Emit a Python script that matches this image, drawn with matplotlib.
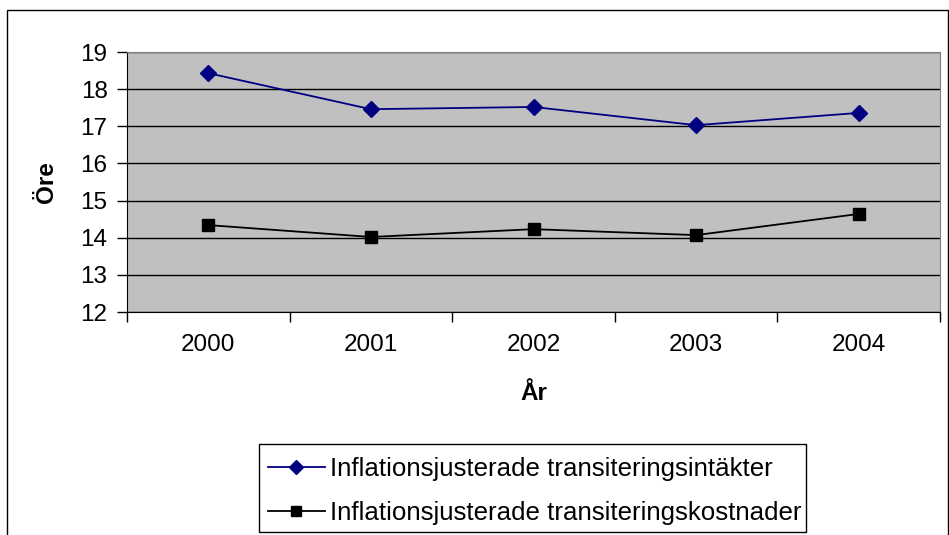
import matplotlib
matplotlib.use("Agg")
import matplotlib.pyplot as plt
from matplotlib.patches import Rectangle

years = ["2000", "2001", "2002", "2003", "2004"]
intakter = [18.43, 17.46, 17.52, 17.03, 17.36]
kostnader = [14.34, 14.02, 14.23, 14.07, 14.64]
label_intakter = "Inflationsjusterade transiteringsintäkter"
label_kostnader = "Inflationsjusterade transiteringskostnader"

plt.rcParams['font.family'] = ['Liberation Sans', 'DejaVu Sans']

W, H = 949, 535
fig = plt.figure(figsize=(W / 100, H / 100), dpi=100)
fig.patch.set_facecolor('white')

# outer chart border
fig.add_artist(Rectangle((7 / W, -0.05), (W - 8) / W, (H - 10) / H + 0.05,
                         transform=fig.transFigure, fill=False,
                         edgecolor='black', linewidth=1.0))

left, right, top, bottom = 127, 940, 52, 312
ax = fig.add_axes([left / W, 1 - bottom / H, (right - left) / W, (bottom - top) / H])
ax.set_facecolor('#c0c0c0')

x = list(range(len(years)))
ax.plot(x, intakter, color='#000080', marker='D', markersize=8, linewidth=1.3,
        label=label_intakter)
ax.plot(x, kostnader, color='black', marker='s', markersize=8, linewidth=1.3,
        label=label_kostnader)

ax.set_xlim(-0.5, len(years) - 0.5)
ax.set_ylim(12, 19)
ax.set_yticks(range(12, 20))
ax.yaxis.grid(True, color='black', linewidth=1.0)
ax.set_axisbelow(True)
ax.set_xticks([i - 0.5 for i in range(len(years) + 1)])
ax.set_xticklabels([])
ax.set_xticks(x, minor=True)
ax.set_xticklabels(years, minor=True)
ax.tick_params(axis='x', which='minor', length=0, pad=16, labelsize=17.5)
ax.tick_params(axis='x', which='major', length=7, width=1, direction='out')
ax.tick_params(axis='y', length=7, width=1, direction='out', pad=7, labelsize=17.5)

for s in ['top', 'right']:
    ax.spines[s].set_color('#808080')
for s in ['left', 'bottom']:
    ax.spines[s].set_color('black')

ax.text((47 - left) / (right - left), (bottom - 182) / (bottom - top), 'Öre',
        transform=ax.transAxes, rotation=90, ha='center', va='center',
        fontsize=17.5, fontweight='bold')
ax.text(0.5, (bottom - 394) / (bottom - top), 'År', transform=ax.transAxes,
        ha='center', va='center', fontsize=17.5, fontweight='bold')

# legend frame
fig.add_artist(Rectangle((259 / W, 1 - 532 / H), (806 - 259) / W, (532 - 444) / H,
                         transform=fig.transFigure, fill=True, facecolor='white',
                         edgecolor='black', linewidth=1.0, zorder=2))
leg = fig.legend(loc='upper left', bbox_to_anchor=(268 / W, 1 - 457 / H),
                 frameon=False, fontsize=18.6,
                 handlelength=2.2, handletextpad=0.2, borderpad=0,
                 labelspacing=0.78, borderaxespad=0, markerscale=0.9)
leg.set_zorder(3)

fig.savefig('out.png', dpi=100, facecolor='white')
